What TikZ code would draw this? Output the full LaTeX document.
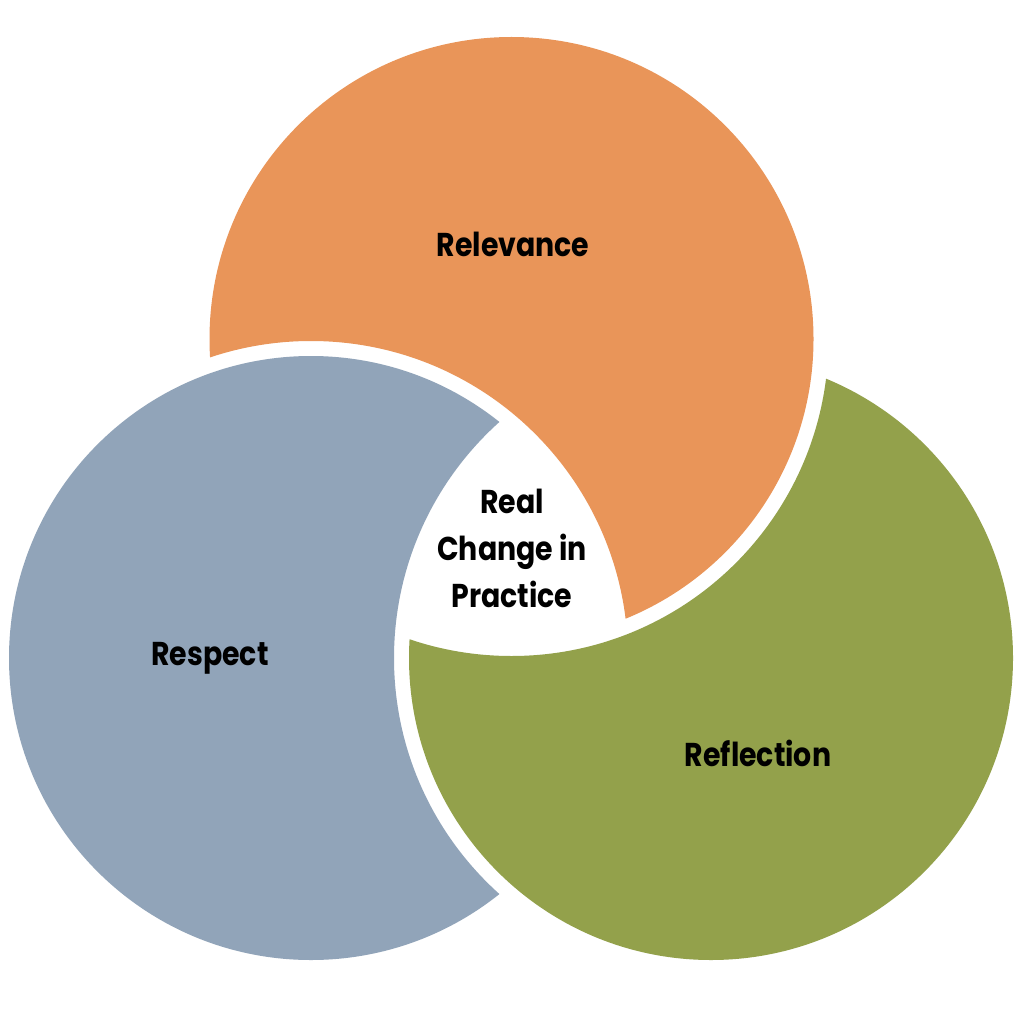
\documentclass[tikz,border=0pt]{standalone}
\usepackage{fontspec}
\setmainfont{Poppins}[FakeStretch=0.86]
\definecolor{orangec}{RGB}{233,149,89}
\definecolor{bluec}{RGB}{145,164,185}
\definecolor{greenc}{RGB}{147,161,75}
\tikzset{
  lbl/.style={font=\bfseries\fontsize{33}{47}\selectfont, text=black, inner sep=0pt, anchor=base},
}
\begin{document}
\begin{tikzpicture}[x=1pt,y=-1pt]
\useasboundingbox (0,0) rectangle (1024,1024);
\fill[white] (0,0) rectangle (1024,1024);
\coordinate (O) at (511.5,339);
\coordinate (B) at (311,658);
\coordinate (G) at (711,658);
\def\rr{302pt}
\def\rg{317pt}
% orange: orange circle minus enlarged blue circle
\begin{scope}
  \clip (O) circle[radius=\rr];
  \fill[orangec, even odd rule] (-50,-50) rectangle (1074,1074) (B) circle[radius=\rg];
\end{scope}
% blue: blue circle minus enlarged green circle
\begin{scope}
  \clip (B) circle[radius=\rr];
  \fill[bluec, even odd rule] (-50,-50) rectangle (1074,1074) (G) circle[radius=\rg];
\end{scope}
% green: green circle minus enlarged orange circle
\begin{scope}
  \clip (G) circle[radius=\rr];
  \fill[greenc, even odd rule] (-50,-50) rectangle (1074,1074) (O) circle[radius=\rg];
\end{scope}
\node[lbl] (rel) at (513,256) {Relevance};
\node[lbl] (res) at (210,665) {Respect};
\node[lbl] (ref) at (758,766) {Reflection};
\node[lbl, align=center] (mid) at (512,607) {Real\\Change in\\Practice};
\end{tikzpicture}
\end{document}
